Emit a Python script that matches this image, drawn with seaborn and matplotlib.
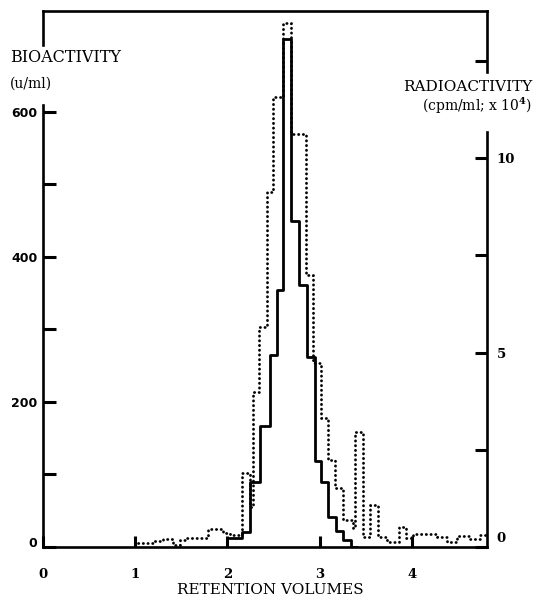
import matplotlib
matplotlib.use("Agg")
import matplotlib.pyplot as plt
import seaborn as sns
import pandas as pd
from matplotlib.ticker import FixedLocator
from matplotlib.transforms import ScaledTranslation

# ---- data ----
bio_edges = [1.99, 2.153, 2.243, 2.351, 2.459, 2.538, 2.603, 2.684, 2.777, 2.857,
             2.947, 3.009, 3.091, 3.174, 3.254, 3.334, 3.40]
bio_values = [12, 21, 90, 167, 265, 354, 700, 449, 361, 262, 118, 90, 42, 22, 10, 0]

radio_edges = [1.03, 1.19, 1.30, 1.41, 1.48, 1.54, 1.79, 1.95, 2.03,
               2.153, 2.243, 2.278, 2.343, 2.424, 2.489, 2.603, 2.684,
               2.849, 2.928, 3.019, 3.091, 3.164, 3.254, 3.362, 3.380,
               3.470, 3.543, 3.633, 3.724, 3.860, 3.940, 4.012,
               4.269, 4.377, 4.485, 4.626, 4.734, 4.80]
radio_values = [0.1, 0.15, 0.2, 0.05, 0.18, 0.23, 0.46, 0.37, 0.31,
                1.89, 1.04, 3.99, 5.66, 9.13, 11.58, 13.46, 10.63,
                6.99, 4.72, 3.31, 2.24, 1.51, 0.69, 0.48, 2.96,
                0.26, 1.08, 0.26, 0.14, 0.52, 0.22, 0.33,
                0.26, 0.14, 0.28, 0.2, 0.3]

x_ticks = [0, 1, 2, 3, 4]
x_ticklabels = ["0", "1", "2", "3", "4"]
left_ticks = [0, 200, 400, 600]
left_ticklabels = ["0", "200", "400", "600"]
left_minor = [100, 300, 500]
right_ticks = [0, 5, 10]
right_ticklabels = ["0", "5", "10"]
right_minor = [2.5, 7.5, 12.5]

XMAX = 4.81
LEFT_TOP = 739
RIGHT_TOP = 13.78

sns.set_theme(style="white")
plt.rcParams["font.family"] = ["DejaVu Serif", "DejaVu Sans"]
plt.rcParams["mathtext.fontset"] = "dejavuserif"
plt.rcParams["text.color"] = "black"
plt.rcParams["xtick.color"] = "black"
plt.rcParams["ytick.color"] = "black"
plt.rcParams["xtick.labelcolor"] = "black"
plt.rcParams["ytick.labelcolor"] = "black"

bio_df = pd.DataFrame({"x": bio_edges, "y": bio_values + [bio_values[-1]]})
radio_df = pd.DataFrame({"x": radio_edges, "y": radio_values + [radio_values[-1]]})

fig = plt.figure(figsize=(5.35, 5.99), dpi=100)
ax = fig.add_axes([43 / 535, 1 - 547 / 599, (486.7 - 43) / 535, (547 - 11) / 599])
ax2 = ax.twinx()

sns.lineplot(data=bio_df, x="x", y="y", ax=ax, color="black", lw=2.0,
             drawstyle="steps-post", estimator=None, sort=False)
sns.lineplot(data=radio_df, x="x", y="y", ax=ax2, color="black", lw=2.0,
             drawstyle="steps-post", estimator=None, sort=False,
             linestyle=(0, (0.1, 1.6)), dash_capstyle="round")

ax.set_xlim(0, XMAX)
ax.set_ylim(0, LEFT_TOP)
ax2.set_ylim(0, RIGHT_TOP)
ax.set_xlabel("")
ax.set_ylabel("")
ax2.set_xlabel("")
ax2.set_ylabel("")

sw = 1.9
for a in (ax, ax2):
    for s in a.spines.values():
        s.set_linewidth(sw)
        s.set_color("black")
ax.spines["right"].set_visible(False)
ax2.spines["left"].set_visible(False)
ax2.spines["top"].set_visible(False)
ax2.spines["bottom"].set_visible(False)

# spine gaps for the axis titles
ax.spines["left"].set_bounds(0, 610)
ax.axvline(0, ymin=692 / LEFT_TOP, ymax=1, color="black", lw=sw, clip_on=False,
           solid_capstyle="projecting")
ax2.spines["right"].set_bounds(0, 10.67)
ax2.axvline(XMAX, ymin=12.2 / RIGHT_TOP, ymax=1, color="black", lw=sw, clip_on=False,
            solid_capstyle="projecting")

# ticks
ax.set_xticks(x_ticks)
ax.set_xticklabels(x_ticklabels, fontsize=9.5, fontweight="bold", family="DejaVu Serif")
ax.set_yticks(left_ticks)
ax.set_yticklabels(left_ticklabels, fontsize=9, fontweight="bold", family="DejaVu Sans")
ax.yaxis.set_minor_locator(FixedLocator(left_minor))
ax.tick_params(axis="x", which="major", direction="in", length=8, width=2.2, pad=15,
               bottom=True, top=False)
ax.tick_params(axis="y", which="both", direction="in", length=9, width=2.2, pad=4,
               left=True, right=False)

ax2.set_yticks(right_ticks)
ax2.set_yticklabels(right_ticklabels, fontsize=9.5, fontweight="bold", family="DejaVu Serif")
ax2.yaxis.set_minor_locator(FixedLocator(right_minor))
ax2.tick_params(axis="y", which="both", direction="in", length=9, width=2.2, pad=7,
                right=True, left=False)

# the "0" labels sit slightly above the baseline in the reference
t0 = ax.yaxis.get_major_ticks()[0].label1
t0.set_transform(t0.get_transform() + ScaledTranslation(0, 0.05, fig.dpi_scale_trans))
r0 = ax2.yaxis.get_major_ticks()[0].label2
r0.set_transform(r0.get_transform() + ScaledTranslation(0, 0.10, fig.dpi_scale_trans))

# axis titles
fig.text(10 / 535, 1 - 58 / 599, "BIOACTIVITY", fontsize=11.5, va="center", ha="left",
         color="black")
fig.text(10 / 535, 1 - 84 / 599, "(u/ml)", fontsize=10, va="center", ha="left",
         color="black")
fig.text(532 / 535, 1 - 87 / 599, "RADIOACTIVITY", fontsize=11, va="center", ha="right",
         color="black")
fig.text(532 / 535, 1 - 106 / 599, r"(cpm/ml; x 10$^{\mathbf{4}}$)", fontsize=10,
         va="center", ha="right", color="black")
fig.text(270 / 535, 1 - 590 / 599, "RETENTION VOLUMES", fontsize=11, va="center",
         ha="center", color="black")

fig.savefig("out.png", dpi=100)
